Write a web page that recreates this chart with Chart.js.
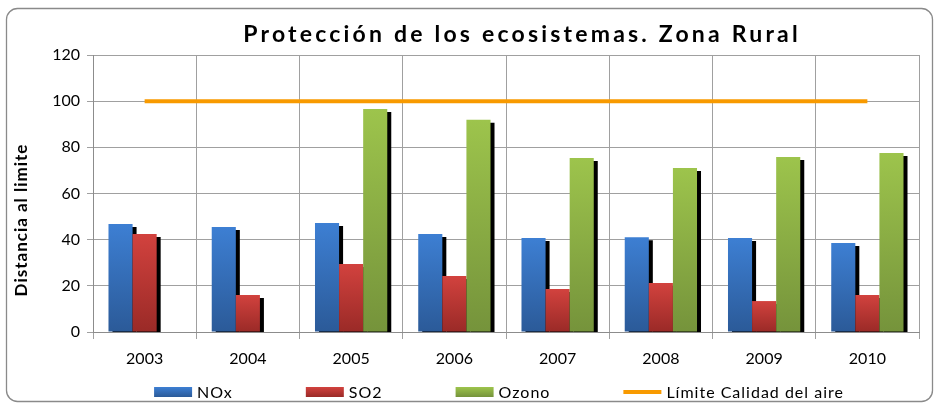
<!DOCTYPE html>
<html>
<head>
<meta charset="utf-8">
<script src="https://cdn.jsdelivr.net/npm/chart.js@4/dist/chart.umd.min.js"></script>
<style>
  html, body { margin: 0; padding: 0; background: #fff; }
  #marco { width: 937px; height: 406px; }
</style>
</head>
<body>
<div id="marco"><canvas id="grafico" width="937" height="406"></canvas></div>
<script>
// datos
const anios = ["2003", "2004", "2005", "2006", "2007", "2008", "2009", "2010"];
const nox = [46.8, 45.5, 47.2, 42.5, 40.7, 41.1, 40.7, 38.6];
const so2 = [42.5, 16.0, 29.5, 24.3, 18.6, 21.2, 13.4, 16.0];
const ozono = [null, null, 96.6, 91.9, 75.4, 71.1, 75.8, 77.5];
const limite = [100, 100, 100, 100, 100, 100, 100, 100];
const ticksY = [0, 20, 40, 60, 80, 100, 120];

const titulo = "Protección de los ecosistemas. Zona Rural";
const tituloEjeY = "Distancia al limite";

// degradado vertical por barra (claro arriba, oscuro abajo)
function degradado(arriba, abajo) {
  return (c) => {
    const chart = c.chart;
    const y = chart.scales && chart.scales.y;
    if (!y || c.type !== "data" || c.raw == null) return arriba;
    const y0 = y.getPixelForValue(c.raw);
    const y1 = y.getPixelForValue(0);
    if (!isFinite(y0) || !isFinite(y1) || y0 === y1) return arriba;
    const g = chart.ctx.createLinearGradient(0, y0, 0, y1);
    g.addColorStop(0, arriba);
    g.addColorStop(1, abajo);
    return g;
  };
}

function degradadoLeyenda(ctx, y, h, arriba, abajo) {
  const g = ctx.createLinearGradient(0, y, 0, y + h);
  g.addColorStop(0, arriba);
  g.addColorStop(1, abajo);
  return g;
}

const colores = [
  ["#3d7fd3", "#2b5a98"],
  ["#d2423e", "#9a2a27"],
  ["#9dc44c", "#75933b"],
];

// marco redondeado + titulos
const marco = {
  id: "marco",
  beforeDraw(chart) {
    const ctx = chart.ctx;
    ctx.save();
    ctx.fillStyle = "#fff";
    ctx.fillRect(0, 0, chart.width, chart.height);
    ctx.strokeStyle = "#8a8a8a";
    ctx.lineWidth = 1.3;
    ctx.beginPath();
    ctx.roundRect(6.5, 8.5, 926, 393, 11);
    ctx.stroke();
    ctx.restore();
  },
  afterDraw(chart) {
    const ctx = chart.ctx;
    ctx.save();
    ctx.font = "bold 23px Lato";
    ctx.letterSpacing = "3.2px";
    ctx.fillStyle = "#000";
    ctx.textAlign = "center";
    ctx.textBaseline = "alphabetic";
    ctx.fillText(titulo, 522, 42);
    ctx.restore();

    // titulo del eje Y
    ctx.save();
    ctx.font = "bold 17px Lato";
    ctx.letterSpacing = "1px";
    ctx.fillStyle = "#000";
    ctx.textAlign = "center";
    ctx.textBaseline = "middle";
    ctx.translate(22, 220);
    ctx.rotate(-Math.PI / 2);
    ctx.fillText(tituloEjeY, 0, 0);
    ctx.restore();
  },
};

// sombra negra desplazada, dibujada de izquierda a derecha
const sombra = {
  id: "sombra",
  beforeDatasetsDraw(chart) {
    const ctx = chart.ctx;
    const a = chart.chartArea;
    const metas = chart.getSortedVisibleDatasetMetas().filter(m => m.type === "bar");
    ctx.save();
    ctx.beginPath();
    ctx.rect(a.left, a.top, a.right - a.left, a.bottom - a.top);
    ctx.clip();
    ctx.shadowColor = "#000";
    ctx.shadowOffsetX = 4;
    ctx.shadowOffsetY = 3;
    ctx.shadowBlur = 0;
    metas.forEach(m => {
      const datos = chart.data.datasets[m.index].data;
      m.data.forEach((el, i) => {
        if (datos[i] != null) el.draw(ctx, a);
      });
    });
    ctx.restore();
  },
  beforeDatasetDraw(chart, args) {
    if (args.meta.type === "bar") return false;
  },
};

// leyenda abajo
const leyenda = {
  id: "leyenda",
  afterDraw(chart) {
    const ctx = chart.ctx;
    const a = chart.chartArea;
    const cajaW = 38, cajaH = 10, sep = 5, hueco = 73;
    const yc = 392;
    ctx.save();
    ctx.font = "16px Lato";
    ctx.letterSpacing = "1px";
    ctx.textBaseline = "middle";
    const items = chart.data.datasets.map((d, i) => ({
      d, i, w: cajaW + sep + ctx.measureText(d.label).width,
    }));
    const total = items.reduce((s, it) => s + it.w, 0) + hueco * (items.length - 1);
    let x = (a.left + a.right) / 2 - total / 2 - 7;
    items.forEach(it => {
      if (it.d.type === "line") {
        ctx.fillStyle = it.d.borderColor;
        ctx.fillRect(x, yc - 2, cajaW, 4);
      } else {
        const c = colores[it.i];
        ctx.fillStyle = degradadoLeyenda(ctx, yc - cajaH / 2, cajaH, c[0], c[1]);
        ctx.fillRect(x, yc - cajaH / 2, cajaW, cajaH);
      }
      ctx.fillStyle = "#000";
      ctx.fillText(it.d.label, x + cajaW + sep, yc + 1);
      x += it.w + hueco;
    });
    ctx.restore();
  },
};

new Chart(document.getElementById("grafico"), {
  type: "bar",
  data: {
    labels: anios,
    datasets: [
      { label: "NOx", data: nox, backgroundColor: degradado(colores[0][0], colores[0][1]) },
      { label: "SO2", data: so2, backgroundColor: degradado(colores[1][0], colores[1][1]) },
      { label: "Ozono", data: ozono, backgroundColor: degradado(colores[2][0], colores[2][1]) },
      {
        type: "line", label: "Límite Calidad del aire", data: limite,
        borderColor: "#f89a00", borderWidth: 4, pointRadius: 0, fill: false, tension: 0,
      },
    ],
  },
  options: {
    responsive: false,
    animation: false,
    layout: { padding: { left: 0, right: 18, top: 55, bottom: 34 } },
    datasets: { bar: { categoryPercentage: 0.7, barPercentage: 1, borderWidth: 0 } },
    plugins: {
      legend: { display: false },
      title: { display: false },
      tooltip: { enabled: false },
    },
    scales: {
      x: {
        grid: { color: "#a0a0a0", lineWidth: 1, tickLength: 7, offset: true },
        border: { color: "#8c8c8c" },
        ticks: { color: "#000", font: { family: "Lato", size: 16 }, padding: 10 },
        afterFit(s) { s.height = 40; },
      },
      y: {
        min: 0, max: 120,
        afterBuildTicks(s) { s.ticks = ticksY.map(v => ({ value: v })); },
        grid: { color: "#a0a0a0", lineWidth: 1, tickLength: 6 },
        border: { color: "#8c8c8c" },
        ticks: { color: "#000", font: { family: "Lato", size: 16 }, padding: 7 },
        afterFit(s) { s.width = 93; },
      },
    },
  },
  plugins: [marco, sombra, leyenda],
});
</script>
</body>
</html>
